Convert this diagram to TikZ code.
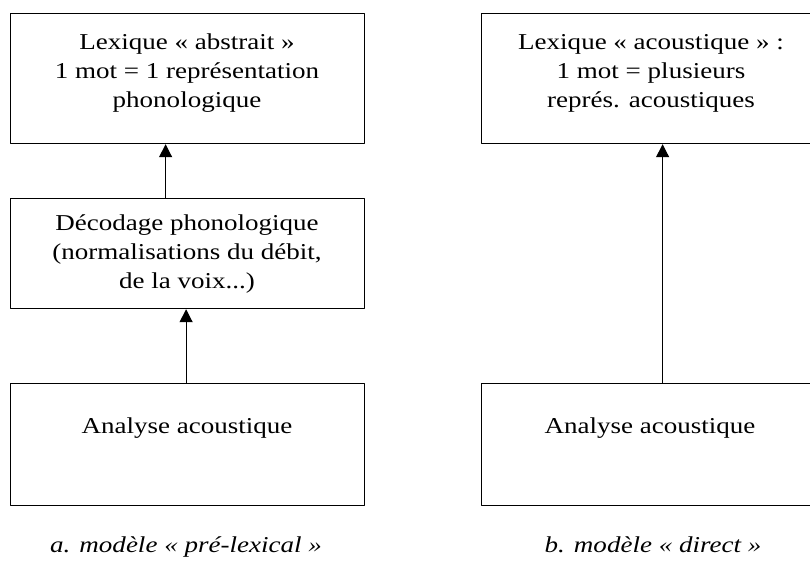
\documentclass[tikz,border=0pt]{standalone}
\usepackage{fontspec}
\setmainfont{Liberation Serif}[FakeStretch=1.19]
\usetikzlibrary{arrows.meta}
\begin{document}
\begin{tikzpicture}[x=1pt, y=-1pt, font=\fontsize{22.7}{29}\selectfont, line join=round, >={Triangle[length=13pt,width=13pt]},
	box/.style={draw, line width=1.2pt, rectangle, inner sep=0pt, minimum width=354, anchor=north west},
	txt/.style={align=center, inner sep=0pt, anchor=north},
	legende/.style={inner sep=0pt, anchor=base, font=\fontsize{22.7}{29}\selectfont\itshape}]
	\def\xa{10} \def\xb{481} % bords gauches
	\clip (0,0) rectangle (810,560);
	% a. modele pre-lexical
	\node[box, minimum height=130] (lexabs) at (\xa,13) {};
	\node[box, minimum height=110] (decod) at (\xa,198) {};
	\node[box, minimum height=122] (acouA) at (\xa,383) {};
	\node[txt] (lexabs-t) at (187,34) {Lexique « abstrait »\\1 mot = 1 représentation\\phonologique};
	\node[txt] (decod-t) at (187,215) {Décodage phonologique\\(normalisations du débit,\\de la voix...)};
	\node[txt] (acouA-t) at (187,418) {Analyse acoustique};
	\draw[->, line width=1.2pt] ([xshift=-1.5]acouA.north) -- ([xshift=-1.5]decod.south);
	\draw[->, line width=1.2pt] ([xshift=-22]decod.north) -- ([xshift=-22]lexabs.south);
	\node[legende] (legA) at (186,552) {a. modèle « pré-lexical »};
	% b. modele direct
	\node[box, minimum height=130] (lexac) at (\xb,13) {};
	\node[box, minimum height=122] (acouB) at (\xb,383) {};
	\node[txt] (lexac-t) at (651,34) {Lexique « acoustique » :\\1 mot = plusieurs\\représ. acoustiques};
	\node[txt] (acouB-t) at (650,418) {Analyse acoustique};
	\draw[->, line width=1.2pt] ([xshift=4]acouB.north) -- ([xshift=4]lexac.south);
	\node[legende] (legB) at (653,552) {b. modèle « direct »};
\end{tikzpicture}
\end{document}
